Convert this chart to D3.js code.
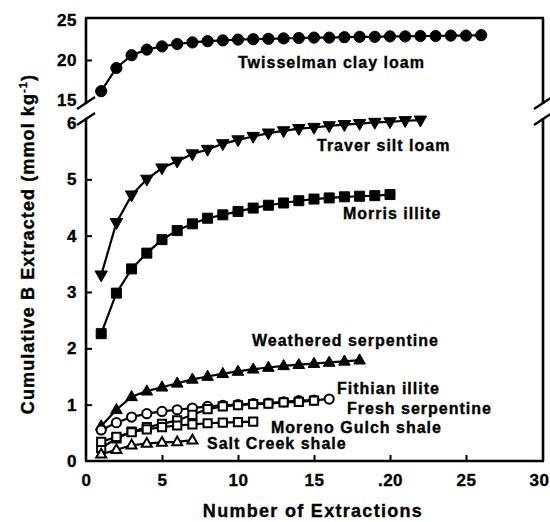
<!DOCTYPE html>
<html>
<head>
<meta charset="utf-8">
<script src="https://cdn.jsdelivr.net/npm/d3@7"></script>
<style>
  html, body { margin: 0; padding: 0; background: #fff; }
  svg { display: block; }
  text { font-family: "Liberation Sans", Arial, Helvetica, sans-serif; font-weight: bold; fill: #000; stroke: #000; stroke-width: 0.35px; }
</style>
</head>
<body>
<svg id="chart" width="550" height="522"></svg>
<script>
// Cumulative boron extracted per successive extraction (mmol kg^-1)
const xTicks = [0, 5, 10, 15, 20, 25, 30];
const yTicksLower = [0, 1, 2, 3, 4, 5, 6];
const yTicksUpper = [15, 20, 25];

const twisselman = [16.1, 19.0, 20.6, 21.3, 21.7, 22.0, 22.2, 22.35, 22.45, 22.55, 22.6, 22.65, 22.7, 22.75, 22.8, 22.8, 22.85, 22.9, 22.9, 22.95, 22.95, 23.0, 23.0, 23.05, 23.05, 23.1];
const traver = [3.3, 4.23, 4.72, 5.0, 5.2, 5.32, 5.45, 5.53, 5.63, 5.7, 5.76, 5.82, 5.86, 5.9, 5.92, 5.95, 5.97, 5.99, 6.01, 6.02, 6.04, 6.05];
const morris = [2.26, 2.98, 3.41, 3.69, 3.93, 4.09, 4.21, 4.31, 4.37, 4.43, 4.49, 4.54, 4.58, 4.62, 4.65, 4.67, 4.69, 4.70, 4.71, 4.73];
const weathered = [0.62, 0.91, 1.14, 1.24, 1.31, 1.38, 1.45, 1.50, 1.55, 1.59, 1.63, 1.66, 1.69, 1.71, 1.73, 1.75, 1.77, 1.79];
const fithian = [0.55, 0.68, 0.78, 0.84, 0.88, 0.91, 0.94, 0.97, 0.99, 1.00, 1.02, 1.03, 1.05, 1.07, 1.08, 1.10];
const freshSerp = [0.23, 0.40, 0.52, 0.60, 0.66, 0.72, 0.82, 0.92, 0.97, 0.99, 1.01, 1.02, 1.04, 1.05, 1.07];
const moreno = [0.34, 0.43, 0.51, 0.56, 0.60, 0.63, 0.65, 0.67, 0.68, 0.69, 0.70];
const saltCreek = [0.12, 0.20, 0.28, 0.31, 0.33, 0.34, 0.37];

const series = [
  { name: "Twisselman clay loam", values: twisselman, panel: "upper", symbol: "circle", filled: true, size: 5.6 },
  { name: "Traver silt loam", values: traver, panel: "lower", symbol: "down", filled: true, size: 6.2 },
  { name: "Morris illite", values: morris, panel: "lower", symbol: "square", filled: true, size: 5 },
  { name: "Weathered serpentine", values: weathered, panel: "lower", symbol: "up", filled: true, size: 5.8 },
  { name: "Fithian illite", values: fithian, panel: "lower", symbol: "circle", filled: false, size: 4.6 },
  { name: "Fresh serpentine", values: freshSerp, panel: "lower", symbol: "square", filled: false, size: 4.1 },
  { name: "Moreno Gulch shale", values: moreno, panel: "lower", symbol: "square", filled: false, size: 4.1 },
  { name: "Salt Creek shale", values: saltCreek, panel: "lower", symbol: "up", filled: false, size: 5 }
];

// Text placed beside each curve
const curveLabels = [
  { text: "Twisselman clay loam", x: 238, y: 68 },
  { text: "Traver silt loam", x: 317, y: 151 },
  { text: "Morris illite", x: 343, y: 219 },
  { text: "Weathered serpentine", x: 252, y: 346 },
  { text: "Fithian illite", x: 337, y: 394 },
  { text: "Fresh serpentine", x: 347, y: 414 },
  { text: "Moreno Gulch shale", x: 271, y: 433 },
  { text: "Salt Creek shale", x: 207, y: 449 }
];

const svg = d3.select("#chart");

const x = d3.scaleLinear().domain([0, 30]).range([86, 542]);
const yLow = d3.scaleLinear().domain([0, 6]).range([461, 123]);
const yUp = d3.scaleLinear().domain([15, 25]).range([100, 20]);

const frameTop = 18, frameBottom = 461, frameLeft = 86, frameRight = 543;
const breakTop = 104, breakBottom = 118;

// Frame and axis lines (with a gap at the scale break)
const frame = svg.append("g").attr("stroke", "#000").attr("stroke-width", 2.6).attr("fill", "none");
frame.append("line").attr("x1", frameLeft - 1).attr("x2", frameRight + 1).attr("y1", frameTop).attr("y2", frameTop);
frame.append("line").attr("x1", frameLeft - 1).attr("x2", frameRight + 1).attr("y1", frameBottom).attr("y2", frameBottom);
[frameLeft, frameRight].forEach(xx => {
  frame.append("line").attr("x1", xx).attr("x2", xx).attr("y1", frameTop).attr("y2", breakTop);
  frame.append("line").attr("x1", xx).attr("x2", xx).attr("y1", breakBottom).attr("y2", frameBottom);
  // break slashes
  frame.append("line").attr("x1", xx - 9).attr("y1", breakTop + 5).attr("x2", xx + 9).attr("y2", breakTop - 7).attr("stroke-width", 2.2);
  frame.append("line").attr("x1", xx - 9).attr("y1", breakBottom + 7).attr("x2", xx + 9).attr("y2", breakBottom - 5).attr("stroke-width", 2.2);
});

// Axes with inward ticks
const fontTick = "17px";
const xAxis = d3.axisBottom(x).tickValues(xTicks).tickSize(-6).tickPadding(13).tickFormat(d3.format("d"));
const gx = svg.append("g").attr("transform", `translate(0,${frameBottom})`).call(xAxis);
gx.select(".domain").remove();
gx.selectAll(".tick line").attr("stroke", "#000").attr("stroke-width", 2).filter(d => d === 0 || d === 30).remove();
gx.selectAll(".tick text").attr("font-size", fontTick).attr("letter-spacing", "0.5px")
  .text(d => d === 20 ? ".20" : d);
gx.selectAll(".tick text").filter(d => d === 30).attr("text-anchor", "end").attr("x", 7);

const yAxisLow = d3.axisLeft(yLow).tickValues(yTicksLower).tickSize(-6).tickPadding(9).tickFormat(d3.format("d"));
const gyl = svg.append("g").attr("transform", `translate(${frameLeft},0)`).call(yAxisLow);
gyl.select(".domain").remove();
gyl.selectAll(".tick line").attr("stroke", "#000").attr("stroke-width", 2).filter(d => d === 0 || d === 6).remove();
gyl.selectAll(".tick text").attr("font-size", fontTick).attr("letter-spacing", "0.5px");

const yAxisUp = d3.axisLeft(yUp).tickValues(yTicksUpper).tickSize(-6).tickPadding(9).tickFormat(d3.format("d"));
const gyu = svg.append("g").attr("transform", `translate(${frameLeft},0)`).call(yAxisUp);
gyu.select(".domain").remove();
gyu.selectAll(".tick line").attr("stroke", "#000").attr("stroke-width", 2).filter(d => d === 25 || d === 15).remove();
gyu.selectAll(".tick text").attr("font-size", fontTick).attr("letter-spacing", "0.5px");

// Curves
const line = yScale => d3.line().x((d, i) => x(i + 1)).y(d => yScale(d));

function symbolPath(type, r) {
  if (type === "circle") return d3.symbol().type(d3.symbolCircle).size(Math.PI * r * r)();
  if (type === "square") return `M${-r},${-r}H${r}V${r}H${-r}Z`;
  const h = r * 1.75;
  if (type === "up") return `M0,${-h * 0.62}L${r},${h * 0.38}L${-r},${h * 0.38}Z`;
  return `M0,${h * 0.62}L${r},${-h * 0.38}L${-r},${-h * 0.38}Z`;
}

series.forEach(s => {
  const yScale = s.panel === "upper" ? yUp : yLow;
  const g = svg.append("g");
  g.append("path").datum(s.values)
    .attr("d", line(yScale))
    .attr("fill", "none").attr("stroke", "#000").attr("stroke-width", 2.2);
  g.selectAll("path.mark").data(s.values).join("path")
    .attr("class", "mark")
    .attr("transform", (d, i) => `translate(${x(i + 1)},${yScale(d)})`)
    .attr("d", symbolPath(s.symbol, s.size))
    .attr("fill", s.filled ? "#000" : "#fff")
    .attr("stroke", "#000").attr("stroke-width", s.filled ? 1 : 2);
});

// Curve labels
svg.append("g").selectAll("text").data(curveLabels).join("text")
  .attr("x", d => d.x).attr("y", d => d.y)
  .attr("font-size", "16px").attr("letter-spacing", "1px")
  .text(d => d.text);

// Axis titles
svg.append("text").attr("x", 313).attr("y", 517).attr("text-anchor", "middle")
  .attr("font-size", "18px").attr("letter-spacing", "1.3px").text("Number of Extractions");

const yt = svg.append("text").attr("transform", "translate(34,244) rotate(-90)")
  .attr("text-anchor", "middle").attr("font-size", "18px").attr("letter-spacing", "1.1px");
yt.append("tspan").text("Cumulative B Extracted (mmol kg");
yt.append("tspan").attr("font-size", "11px").attr("dy", "-7").text("-1");
yt.append("tspan").attr("dy", "7").text(")");
</script>
</body>
</html>
